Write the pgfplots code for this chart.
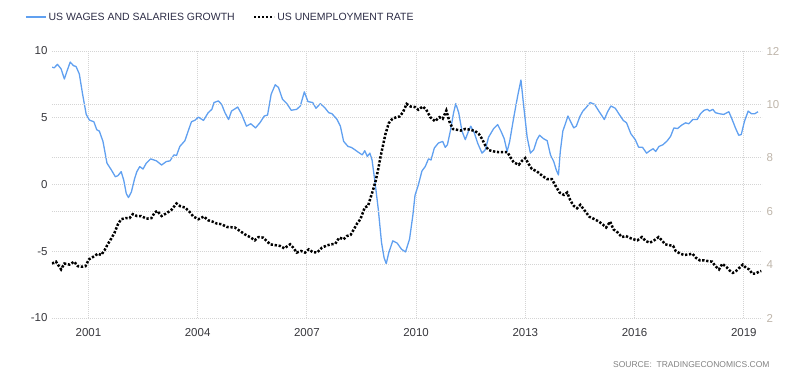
\documentclass[border=0pt]{standalone}
\usepackage{fontspec}
\setmainfont{Liberation Sans}
\usepackage{pgfplots}
\usepackage{pgfplotstable}
\pgfplotsset{compat=1.18}
\definecolor{wage}{RGB}{96,160,240}
\definecolor{ticklab}{RGB}{55,55,60}
\definecolor{rtick}{RGB}{190,181,170}
\definecolor{gridc}{RGB}{212,212,212}
\definecolor{legtext}{RGB}{45,45,70}
\definecolor{srctext}{RGB}{130,130,130}

\pgfplotstableread{
x y
2000.00 8.79
2000.06 8.74
2000.15 9.00
2000.25 8.66
2000.34 7.90
2000.40 8.40
2000.50 9.17
2000.59 8.90
2000.66 8.84
2000.75 8.28
2000.84 6.77
2000.94 5.25
2001.03 4.82
2001.15 4.70
2001.23 4.10
2001.30 4.00
2001.40 3.23
2001.51 1.60
2001.63 1.09
2001.74 0.58
2001.81 0.66
2001.90 0.96
2001.97 0.33
2002.04 -0.68
2002.10 -0.98
2002.18 -0.56
2002.27 0.45
2002.33 0.96
2002.41 1.34
2002.50 1.16
2002.59 1.60
2002.71 1.92
2002.87 1.77
2003.01 1.46
2003.14 1.72
2003.24 1.77
2003.35 2.22
2003.42 2.17
2003.51 2.85
2003.65 3.28
2003.74 4.00
2003.83 4.70
2003.93 4.82
2004.02 5.05
2004.16 4.80
2004.29 5.38
2004.39 5.63
2004.45 6.14
2004.57 6.26
2004.66 6.00
2004.75 5.38
2004.85 4.87
2004.93 5.50
2005.10 5.80
2005.21 5.25
2005.34 4.37
2005.46 4.55
2005.59 4.24
2005.71 4.62
2005.83 5.13
2005.92 5.20
2006.02 6.77
2006.13 7.47
2006.22 7.27
2006.33 6.39
2006.45 6.06
2006.57 5.56
2006.72 5.63
2006.82 5.88
2006.93 6.94
2007.03 6.21
2007.16 6.14
2007.25 5.71
2007.37 6.06
2007.49 5.76
2007.60 5.38
2007.69 5.30
2007.83 4.87
2007.92 4.37
2008.01 3.23
2008.13 2.85
2008.22 2.78
2008.32 2.60
2008.41 2.42
2008.52 2.22
2008.59 2.53
2008.66 2.10
2008.73 2.35
2008.79 1.84
2008.87 0.20
2008.96 -1.82
2009.05 -4.34
2009.12 -5.48
2009.18 -5.93
2009.25 -5.10
2009.36 -4.22
2009.48 -4.39
2009.60 -4.85
2009.71 -5.05
2009.82 -4.09
2009.91 -2.32
2009.97 -0.81
2010.06 -0.05
2010.16 1.01
2010.25 1.34
2010.34 1.92
2010.41 1.84
2010.50 2.73
2010.61 3.10
2010.73 3.23
2010.80 2.78
2010.86 2.98
2010.94 4.00
2011.03 5.38
2011.09 6.06
2011.17 5.38
2011.26 4.00
2011.35 3.36
2011.44 4.00
2011.50 4.37
2011.60 3.86
2011.69 3.10
2011.81 2.35
2011.90 2.60
2011.99 3.54
2012.13 4.19
2012.24 4.49
2012.33 4.00
2012.42 3.43
2012.50 2.47
2012.57 3.23
2012.68 5.00
2012.79 6.64
2012.88 7.83
2012.95 6.01
2013.05 3.54
2013.14 2.35
2013.23 2.60
2013.32 3.36
2013.39 3.69
2013.50 3.43
2013.60 3.28
2013.69 2.22
2013.78 1.72
2013.85 1.09
2013.91 0.71
2013.96 2.47
2014.03 4.00
2014.10 4.55
2014.17 5.13
2014.26 4.62
2014.33 4.24
2014.40 4.37
2014.50 5.10
2014.58 5.50
2014.67 5.76
2014.78 6.14
2014.90 6.01
2015.03 5.45
2015.17 4.87
2015.26 5.45
2015.35 5.88
2015.47 5.71
2015.58 5.25
2015.69 4.80
2015.78 4.62
2015.90 3.79
2016.02 3.36
2016.11 2.80
2016.22 2.78
2016.33 2.35
2016.42 2.53
2016.51 2.68
2016.58 2.47
2016.67 2.85
2016.78 2.98
2016.90 3.28
2016.99 3.61
2017.08 4.24
2017.18 4.19
2017.29 4.44
2017.40 4.62
2017.49 4.55
2017.60 4.87
2017.72 4.87
2017.81 5.30
2017.91 5.56
2018.00 5.63
2018.06 5.50
2018.15 5.63
2018.22 5.38
2018.33 5.30
2018.45 5.25
2018.54 5.38
2018.59 5.45
2018.68 4.87
2018.77 4.24
2018.86 3.69
2018.93 3.74
2019.02 4.75
2019.12 5.50
2019.21 5.30
2019.30 5.30
2019.39 5.45
}\wagedata

\pgfplotstableread{
x y
2000.00 4.04
2000.11 4.11
2000.25 3.82
2000.34 4.04
2000.48 4.00
2000.61 4.11
2000.71 3.94
2000.84 3.92
2000.92 3.94
2001.01 4.19
2001.12 4.28
2001.26 4.41
2001.35 4.36
2001.44 4.53
2001.53 4.76
2001.63 4.98
2001.72 5.20
2001.81 5.51
2001.90 5.70
2002.02 5.74
2002.13 5.74
2002.22 5.89
2002.33 5.82
2002.45 5.82
2002.59 5.72
2002.73 5.74
2002.82 5.95
2002.89 6.01
2003.01 5.82
2003.14 5.92
2003.28 6.05
2003.42 6.29
2003.53 6.18
2003.65 6.14
2003.77 5.99
2003.88 5.80
2004.02 5.70
2004.17 5.80
2004.29 5.66
2004.41 5.61
2004.52 5.54
2004.66 5.51
2004.80 5.41
2005.02 5.39
2005.16 5.26
2005.30 5.13
2005.44 5.03
2005.57 4.91
2005.67 5.03
2005.80 5.01
2005.90 4.88
2005.99 4.76
2006.13 4.73
2006.26 4.70
2006.38 4.61
2006.54 4.76
2006.63 4.63
2006.72 4.45
2006.84 4.51
2006.95 4.45
2007.05 4.57
2007.16 4.47
2007.28 4.45
2007.41 4.63
2007.55 4.72
2007.67 4.76
2007.78 4.78
2007.89 5.01
2008.01 4.95
2008.10 5.07
2008.20 5.11
2008.29 5.32
2008.38 5.54
2008.47 5.70
2008.59 6.14
2008.68 6.20
2008.75 6.51
2008.81 6.76
2008.89 7.14
2008.96 7.58
2009.02 8.02
2009.09 8.46
2009.16 8.90
2009.25 9.30
2009.35 9.46
2009.46 9.52
2009.55 9.55
2009.64 9.71
2009.74 10.02
2009.85 9.92
2009.97 9.90
2010.06 9.80
2010.18 9.92
2010.28 9.80
2010.39 9.52
2010.52 9.37
2010.64 9.52
2010.73 9.46
2010.83 9.77
2010.92 9.34
2011.01 9.08
2011.12 9.05
2011.23 9.02
2011.35 9.08
2011.49 9.05
2011.62 9.00
2011.72 8.90
2011.81 8.71
2011.90 8.46
2011.99 8.29
2012.13 8.24
2012.27 8.21
2012.40 8.21
2012.51 8.21
2012.59 8.02
2012.68 7.83
2012.82 7.74
2012.91 7.89
2013.00 7.99
2013.09 7.77
2013.18 7.58
2013.32 7.49
2013.46 7.33
2013.60 7.20
2013.73 7.20
2013.83 6.95
2013.94 6.70
2014.06 6.61
2014.15 6.70
2014.24 6.39
2014.33 6.20
2014.42 6.11
2014.51 6.24
2014.62 6.04
2014.76 5.79
2014.90 5.70
2015.02 5.61
2015.12 5.51
2015.22 5.39
2015.33 5.61
2015.42 5.32
2015.54 5.20
2015.65 5.03
2015.76 5.07
2015.85 5.01
2015.96 4.95
2016.08 4.91
2016.20 5.03
2016.31 4.88
2016.42 4.82
2016.54 4.91
2016.66 5.03
2016.75 4.91
2016.84 4.76
2016.95 4.73
2017.06 4.70
2017.13 4.51
2017.24 4.42
2017.36 4.36
2017.48 4.38
2017.59 4.41
2017.68 4.26
2017.79 4.16
2017.91 4.16
2018.02 4.13
2018.13 4.11
2018.22 3.94
2018.32 3.82
2018.41 4.03
2018.52 3.91
2018.61 3.78
2018.70 3.69
2018.79 3.76
2018.88 3.88
2018.97 4.00
2019.06 3.88
2019.15 3.82
2019.23 3.66
2019.32 3.66
2019.41 3.73
2019.48 3.76
}\unempdata

\begin{document}
\begin{tikzpicture}
\useasboundingbox (-52bp,-63bp) rectangle (757bp,318bp);
\pgfplotsset{
  common/.style={
    scale only axis, width=710bp, height=267bp,
    xmin=2000, xmax=2019.5,
    clip mode=individual,
    axis line style={draw=none},
    major tick style={draw=none},
    major grid style={gridc, line width=0.8bp, dash pattern=on 1bp off 1bp},
  }
}
\begin{axis}[common,
  at={(0,0)}, anchor=south west,
  ymin=-10, ymax=10,
  ytick={-10,-5,0,5,10},
  yticklabels={-10,-5,0,5,10},
  xtick={2001,2004,2007,2010,2013,2016,2019},
  xticklabels={2001,2004,2007,2010,2013,2016,2019},
  xmajorgrids, ymajorgrids,
  yticklabel style={font=\fontsize{11.5bp}{13bp}\selectfont, text=ticklab, xshift=-1bp},
  xticklabel style={font=\fontsize{11.5bp}{13bp}\selectfont, text=ticklab, yshift=-7bp},
  legend columns=2,
  legend cell align=left,
  legend style={draw=none, fill=none, at={(axis description cs:-0.038,1.127)}, anchor=west,
    font=\fontsize{10.5bp}{12bp}\selectfont, text=legtext,
    /tikz/every even column/.append style={column sep=16bp},
    inner sep=0pt},
  legend image code/.code={\draw[#1] (0bp,0bp) -- (20bp,0bp);},
]
\addplot[wage, line width=1.3bp, line join=round] table[x=x,y=y] {\wagedata};
\addlegendentry{US WAGES AND SALARIES GROWTH}
\addlegendimage{black, line width=2.5bp, dash pattern=on 2.3bp off 1.7bp}
\addlegendentry{US UNEMPLOYMENT RATE}
\node[anchor=east, font=\fontsize{8.5bp}{10bp}\selectfont, text=srctext] at (axis description cs:1.0155,-0.176) {SOURCE:\ \ TRADINGECONOMICS.COM};
\end{axis}
\begin{axis}[common,
  at={(0,0)}, anchor=south west,
  ymin=2, ymax=12,
  ytick={2,4,6,8,10,12},
  yticklabels={2,4,6,8,10,12},
  xtick=\empty,
  axis y line*=right,
  ymajorgrids,
  yticklabel style={font=\fontsize{11.5bp}{13bp}\selectfont, text=rtick, xshift=1bp},
]
\addplot[black, line width=2.5bp, dash pattern=on 2.3bp off 1.7bp] table[x=x,y=y] {\unempdata};
\end{axis}
\end{tikzpicture}
\end{document}
